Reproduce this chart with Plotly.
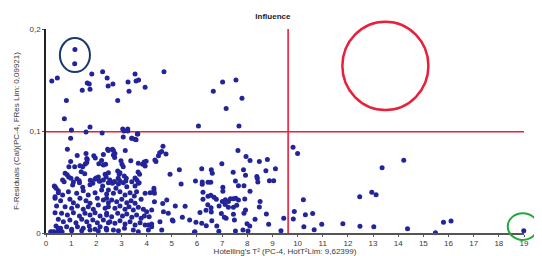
import plotly.graph_objects as go

# Hotelling's T^2 values and F-residuals
hot_t2 = [
    1.15, 1.14, 0.23, 0.45, 1.82, 2.25, 2.43, 1.64, 1.72, 1.44, 1.75, 2.47, 2.66, 3.54, 3.68, 3.58, 3.26, 3.30, 3.94, 4.69,
    0.81, 2.85, 0.73, 1.01, 1.75, 1.59, 2.23, 3.05, 3.25, 3.65,
    7.02, 7.55, 6.65, 7.79, 7.16, 6.06, 7.67, 9.82, 10.0,
    7.63, 7.95, 8.11, 8.48, 8.80, 6.99, 6.19, 6.57, 6.61, 5.30, 7.44, 7.85, 7.93, 8.38, 8.40, 8.74, 9.12, 8.88, 9.05,
    5.94, 5.37, 6.21, 6.21, 6.44, 6.55, 7.53, 7.65, 8.42, 7.87, 8.11, 7.03, 7.03, 6.24, 6.44, 6.55, 6.24, 6.68, 6.77,
    7.01, 7.13, 7.25, 7.33, 7.45, 7.54, 7.65, 7.90, 8.51, 10.23, 5.14, 5.53, 6.43, 6.56, 6.36, 6.88, 7.12, 7.25, 7.45,
    7.58, 7.93, 8.48, 7.87, 7.45, 6.97, 6.12, 6.57, 5.42, 5.02, 8.76, 9.87, 10.31, 10.60, 9.45, 9.83, 5.71, 5.96, 6.19,
    6.59, 6.37, 6.79, 7.09, 7.16, 7.49, 8.31, 8.85, 7.99, 10.25, 10.96, 11.80, 12.47, 12.48, 10.66, 9.34, 5.92, 6.87,
    7.53, 7.83, 8.03, 8.10, 5.05, 5.90,
    14.22, 13.36, 12.95, 13.12, 13.03, 14.37, 15.48, 15.80, 16.10, 18.99,
    0.98, 3.07, 3.41, 3.54, 0.85, 1.24, 1.59, 1.62, 1.96, 1.90, 2.28, 0.98, 0.91, 1.14, 1.35, 1.46, 1.56, 1.40, 1.54,
    2.21, 2.28, 2.10, 0.76, 0.84, 0.90, 0.99, 0.66, 1.09, 1.23, 1.32, 1.76, 1.86, 1.94, 1.99, 2.08, 2.15, 2.28, 2.39, 2.48,
    3.10, 3.25, 3.63, 3.41, 3.58, 2.45, 2.64, 2.68, 2.73, 3.15, 4.65, 4.60, 4.52, 4.47, 4.37, 2.37, 2.98, 3.02, 3.07,
    3.37, 3.67, 3.84, 3.90, 3.98, 3.94, 2.35, 2.85, 2.91, 2.94, 3.11, 3.19, 2.87, 2.93, 3.66, 3.72, 3.54, 3.61, 3.70,
    4.93, 2.54, 2.64, 2.72, 3.17,
    0.36, 0.72, 1.06, 1.33, 1.46, 1.75, 2.12, 2.25, 2.48, 0.49, 0.66, 0.89, 1.22, 1.48, 1.68, 1.95, 2.21, 2.41,
    0.36, 0.58, 0.95, 1.09, 1.35, 1.59, 1.75, 2.04, 2.28, 2.48, 0.42, 0.76, 1.02, 1.25, 1.48, 1.68, 1.88, 2.08, 2.35,
    0.36, 0.62, 0.85, 1.09, 1.33, 1.55, 1.75, 1.95, 2.15, 2.41, 0.49, 0.69, 0.95, 1.19, 1.42, 1.62, 1.86, 2.04, 2.28, 2.48,
    0.40, 0.58, 0.82, 1.02, 1.25, 1.48, 1.72, 1.95, 2.15, 2.39, 0.19, 0.32, 0.45, 0.58, 1.02, 1.42, 1.75, 2.08, 2.41,
    0.20, 0.28, 0.44, 0.52, 0.64, 0.49, 0.33, 0.40, 0.36, 0.49,
    2.72, 2.88, 2.78, 3.07, 3.21, 3.41, 3.54, 3.67, 2.48, 2.68, 2.94, 3.14, 3.34, 3.51, 3.60, 3.94, 4.14, 4.31, 4.31,
    4.80, 4.67, 4.86, 4.53, 4.60, 2.41, 2.61, 2.81, 3.01, 3.21, 3.38, 3.54, 3.78, 2.48, 2.74, 2.94, 3.14, 3.30, 3.47,
    3.67, 3.87, 4.00, 4.20, 2.41, 2.61, 2.85, 3.04, 3.21, 3.41, 3.60, 3.78, 3.91, 4.10, 2.54, 2.74, 2.94, 3.14, 3.34,
    3.54, 3.74, 3.94, 4.20, 2.41, 2.68, 2.88, 3.12, 3.47, 3.67, 4.07,
    4.33, 4.77, 4.29, 4.29, 4.64, 4.07, 4.20, 1.64, 1.62, 2.48, 2.68, 2.74,
]
f_resid = [
    0.180, 0.166, 0.149, 0.152, 0.156, 0.158, 0.152, 0.147, 0.146, 0.140, 0.141, 0.144, 0.146, 0.156, 0.150, 0.149, 0.148, 0.139, 0.143, 0.158,
    0.130, 0.130, 0.112, 0.101, 0.104, 0.099, 0.098, 0.102, 0.102, 0.097,
    0.148, 0.150, 0.139, 0.132, 0.122, 0.105, 0.105, 0.084, 0.078,
    0.081, 0.075, 0.071, 0.070, 0.072, 0.068, 0.063, 0.062, 0.0585, 0.062, 0.0595, 0.062, 0.0566, 0.0555, 0.0536, 0.061, 0.063, 0.0513, 0.0513,
    0.051, 0.048, 0.050, 0.0477, 0.0497, 0.0497, 0.051, 0.0464, 0.050, 0.0464, 0.0409, 0.0448, 0.041, 0.040, 0.036, 0.037, 0.033, 0.035, 0.033,
    0.031, 0.0327, 0.031, 0.0336, 0.0336, 0.034, 0.0324, 0.0333, 0.031, 0.0327, 0.0265, 0.0262, 0.0277, 0.0248, 0.0222, 0.0265, 0.028, 0.0252, 0.0252,
    0.0272, 0.0225, 0.0255, 0.0193, 0.0183, 0.019, 0.020, 0.0206, 0.0154, 0.0127, 0.0186, 0.021, 0.018, 0.019, 0.0144, 0.0137, 0.0127, 0.0105, 0.0095,
    0.012, 0.0072, 0.0069, 0.0154, 0.0144, 0.0127, 0.0134, 0.0085, 0.0091, 0.0062, 0.0085, 0.0091, 0.0356, 0.0066, 0.0032, 0.0023, 0.0013, 0.0017,
    0.002, 0.003, 0.002, 0.0069, 0.0118, 0.0007,
    0.0713, 0.064, 0.040, 0.0375, 0.0062, 0.0042, 0.0003, 0.0105, 0.0118, 0.0023,
    0.093, 0.094, 0.093, 0.092, 0.082, 0.076, 0.078, 0.073, 0.0735, 0.0758, 0.077, 0.070, 0.065, 0.065, 0.066, 0.065, 0.0676, 0.060, 0.058,
    0.071, 0.0667, 0.068, 0.0585, 0.057, 0.055, 0.0536, 0.052, 0.050, 0.0532, 0.0513, 0.0517, 0.0487, 0.0526, 0.054, 0.055, 0.051, 0.052, 0.055, 0.059,
    0.100, 0.100, 0.097, 0.093, 0.0915, 0.082, 0.082, 0.0765, 0.074, 0.081, 0.085, 0.080, 0.0787, 0.0758, 0.070, 0.0673, 0.0709, 0.0673, 0.065,
    0.0709, 0.0683, 0.0673, 0.0696, 0.0703, 0.0657, 0.0575, 0.0608, 0.0575, 0.059, 0.056, 0.0536, 0.0536, 0.0513, 0.0598, 0.0575, 0.054, 0.052, 0.0493,
    0.0575, 0.052, 0.0487, 0.0503, 0.051,
    0.0454, 0.0503, 0.0471, 0.0493, 0.0448, 0.0474, 0.0507, 0.0461, 0.0493, 0.0395, 0.0373, 0.0405, 0.0389, 0.0415, 0.0373, 0.0395, 0.0422, 0.0382,
    0.034, 0.0317, 0.033, 0.0297, 0.034, 0.0317, 0.0291, 0.034, 0.0324, 0.0297, 0.0265, 0.0258, 0.0242, 0.0265, 0.0232, 0.0258, 0.0232, 0.0275, 0.0242,
    0.0199, 0.0193, 0.0176, 0.0199, 0.0167, 0.0193, 0.0176, 0.0199, 0.0167, 0.0193, 0.0134, 0.0111, 0.0127, 0.0101, 0.0134, 0.0111, 0.0127, 0.0101, 0.0127, 0.0101,
    0.0069, 0.0046, 0.0062, 0.0036, 0.0062, 0.0046, 0.0069, 0.0036, 0.0062, 0.0046, 0.0013, 0.0013, 0.001, 0.0013, 0.0023, 0.0023, 0.003, 0.002, 0.003,
    0.001, 0.001, 0.001, 0.0012, 0.0012, 0.0046, 0.046, 0.0438, 0.0356, 0.0415,
    0.0503, 0.048, 0.0438, 0.0493, 0.0454, 0.0503, 0.0461, 0.0487, 0.0422, 0.0389, 0.0405, 0.0373, 0.0395, 0.0363, 0.0405, 0.0389, 0.0395, 0.0389, 0.0307,
    0.0324, 0.0209, 0.0193, 0.0111, 0.0029, 0.034, 0.0324, 0.0307, 0.033, 0.0297, 0.0317, 0.0291, 0.033, 0.0258, 0.0242, 0.0265, 0.0232, 0.0258, 0.0225,
    0.0252, 0.0232, 0.0209, 0.0225, 0.0176, 0.016, 0.0193, 0.0167, 0.0186, 0.0154, 0.0176, 0.0144, 0.0167, 0.016, 0.0111, 0.0095, 0.0121, 0.0088, 0.0111,
    0.0078, 0.0101, 0.0078, 0.0088, 0.0036, 0.0029, 0.0023, 0.0046, 0.0029, 0.0013, 0.0029,
    0.0716, 0.0775, 0.0438, 0.0415, 0.029, 0.0078, 0.0062, 0.072, 0.069, 0.081, 0.081, 0.078,
]

x_ticks = list(range(0, 20))
y_ticks = [0, 0.1, 0.2]
y_tick_text = ["0", "0,1", "0,2"]

hot_lim = 9.62399
fres_lim = 0.09921

FONT = "Liberation Sans"
RED = "#e8203a"

fig = go.Figure()
fig.add_trace(go.Scatter(
    x=hot_t2, y=f_resid, mode="markers",
    marker=dict(size=5, color="#23239a"),
    hoverinfo="x+y", cliponaxis=False,
))

shapes = [
    dict(type="line", xref="x", yref="y", x0=0, x1=19, y0=fres_lim, y1=fres_lim,
         line=dict(color=RED, width=1.6), layer="below"),
    dict(type="line", xref="x", yref="y", x0=hot_lim, x1=hot_lim, y0=0, y1=0.2,
         line=dict(color=RED, width=1.6), layer="below"),
    # annotation circles (paper coordinates)
    dict(type="circle", xref="paper", yref="paper", x0=0.029, x1=0.092, y0=0.789, y1=0.956,
         line=dict(color="#1b3a6b", width=2)),
    dict(type="circle", xref="paper", yref="paper", x0=0.620, x1=0.800, y0=0.603, y1=1.036,
         line=dict(color=RED, width=2.5)),
    dict(type="circle", xref="paper", yref="paper", x0=0.966, x1=1.029, y0=-0.034, y1=0.097,
         line=dict(color="#22a83a", width=2)),
]

# the page body adds an 8px offset, so the figure is drawn 8px smaller
fig.update_layout(
    width=534, height=248,
    margin=dict(l=38, r=18, t=21, b=23, autoexpand=False),
    paper_bgcolor="white", plot_bgcolor="white",
    showlegend=False,
    font=dict(family=FONT, size=8, color="#404040"),
    title=dict(text="<b>Influence</b>", x=0.496, xanchor="center", y=0.968, yanchor="middle",
               font=dict(family=FONT, size=8, color="#222222")),
    shapes=shapes,
    xaxis=dict(
        range=[0, 19], tickvals=x_ticks, ticktext=[str(v) for v in x_ticks],
        showgrid=False, zeroline=False, showline=True, linecolor="#555555", linewidth=1.5,
        ticks="outside", ticklen=2, tickcolor="#555555", automargin=False,
        tickfont=dict(family=FONT, size=8, color="#3a3a3a"),
        title=dict(text="Hotelling's T² (PC-4, HotT²Lim: 9,62399)", standoff=1,
                   font=dict(family=FONT, size=8, color="#3a3a3a")),
    ),
    yaxis=dict(
        range=[0, 0.2], tickvals=y_ticks, ticktext=y_tick_text,
        showgrid=False, zeroline=False, showline=True, linecolor="#222222", linewidth=1.5,
        ticks="outside", ticklen=2, tickcolor="#555555", automargin=False,
        tickfont=dict(family=FONT, size=8, color="#3a3a3a"),
        title=dict(text="F-Residuals (Cal)(PC-4, FRes Lim: 0,09921)", standoff=9,
                   font=dict(family=FONT, size=8, color="#3a3a3a")),
    ),
)

fig.write_html("out.html")
